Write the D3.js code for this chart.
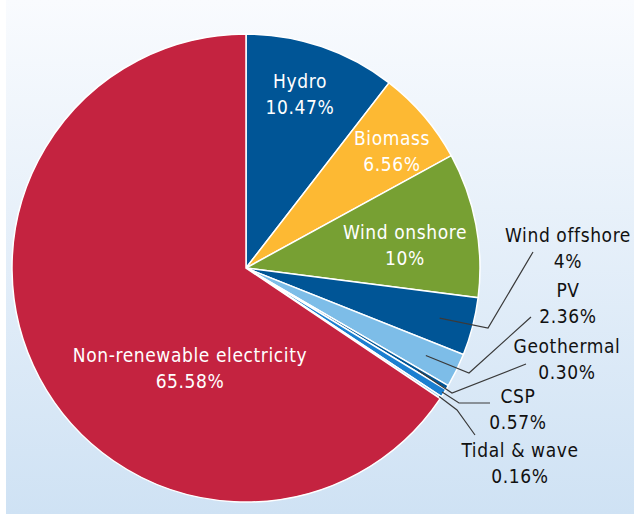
<!DOCTYPE html>
<html lang="en">
<head>
    <meta charset="UTF-8">
    <title>Electricity shares</title>
    <style>
        body { margin: 0; background: #fff; }
        text {
            font-family: 'Liberation Sans Narrow', 'Arial Narrow', 'DejaVu Sans Condensed', sans-serif;
            font-size: 19px;
            letter-spacing: 0.6px;
            text-anchor: middle;
        }
        .inside { fill: #fff; }
        .outside { fill: #111; }
        .leader { fill: none; stroke: #3a3a3a; stroke-width: 1.2px; }
        .slice { stroke: #fff; stroke-width: 1.5px; }
    </style>
</head>
<body>

<script src="https://d3js.org/d3.v7.min.js"></script>

<script>

    const width = 634;
    const height = 515;

    // slices, clockwise from 12 o'clock
    const sources = ['Hydro', 'Biomass', 'Wind onshore', 'Wind offshore', 'PV', 'Geothermal', 'CSP', 'Tidal & wave', 'Non-renewable electricity'];
    const shares = [10.47, 6.56, 10, 4, 2.36, 0.30, 0.57, 0.16, 65.58];
    const shareLabels = ['10.47%', '6.56%', '10%', '4%', '2.36%', '0.30%', '0.57%', '0.16%', '65.58%'];
    const colours = ['#005596', '#fdb933', '#77a033', '#005596', '#7dbde8', '#005596', '#1b7fd0', '#7dbde8', '#c42340'];

    const centre = {'x': 246, 'y': 268};
    const radius = 234;

    // label layout: offset of label centre from pie centre (first baseline), line gap
    const labelLayout = {
        'Hydro': {'dx': 54, 'dy': -180, 'inside': true},
        'Biomass': {'dx': 146, 'dy': -123, 'inside': true},
        'Wind onshore': {'dx': 159, 'dy': -29, 'inside': true},
        'Non-renewable electricity': {'dx': -56, 'dy': 94, 'inside': true},
        'Wind offshore': {'dx': 322, 'dy': -26},
        'PV': {'dx': 322, 'dy': 29},
        'Geothermal': {'dx': 321, 'dy': 85},
        'CSP': {'dx': 272, 'dy': 135},
        'Tidal & wave': {'dx': 274, 'dy': 189}
    };
    const lineGap = 26;

    // leader lines: start radius inside the slice, then elbow and end relative to pie centre
    const leaderLayout = {
        'Wind offshore': {'r': 200, 'pts': [[242, 60], [287, -16]]},
        'PV': {'r': 200, 'pts': [[223, 105], [285, 49]]},
        'Geothermal': {'r': 200, 'pts': [[206, 125], [280, 96]]},
        'CSP': {'r': 232, 'pts': [[213, 135], [244, 135]]},
        'Tidal & wave': {'r': 232, 'pts': [[211, 142], [229, 167]]}
    };

    let svg = d3.select('body').append('svg')
        .attr('width', width)
        .attr('height', height);

    let defs = svg.append('defs');
    let grad = defs.append('linearGradient')
        .attr('id', 'bg')
        .attr('x1', 0).attr('y1', 0)
        .attr('x2', 0).attr('y2', 1);
    grad.append('stop').attr('offset', '0%').attr('stop-color', '#f9fbfe');
    grad.append('stop').attr('offset', '100%').attr('stop-color', '#cfe2f4');

    svg.append('rect')
        .attr('x', 6)
        .attr('y', 0)
        .attr('width', width - 6)
        .attr('height', 514)
        .style('fill', 'url(#bg)');

    let data = sources.map(function(s, i) {
        return {'name': s, 'value': shares[i], 'label': shareLabels[i], 'colour': colours[i]};
    });

    let pie = d3.pie()
        .sort(null)
        .value(function(d) { return d.value; });

    let arc = d3.arc()
        .innerRadius(0)
        .outerRadius(radius);

    let arcs = pie(data);

    let chart = svg.append('g')
        .attr('transform', 'translate(' + centre.x + ',' + centre.y + ')');

    chart.selectAll('path.slice')
        .data(arcs)
        .enter().append('path')
        .classed('slice', true)
        .style('fill', function(d) { return d.data.colour; })
        .attr('d', arc);

    // leader lines for the small slices
    arcs.forEach(function(d) {
        let lay = leaderLayout[d.data.name];
        if (!lay) return;
        let mid = (d.startAngle + d.endAngle) / 2;
        let start = [lay.r * Math.sin(mid), -lay.r * Math.cos(mid)];
        chart.append('path')
            .classed('leader', true)
            .attr('d', d3.line()([start].concat(lay.pts)));
    });

    // labels
    arcs.forEach(function(d) {
        let lay = labelLayout[d.data.name];
        let t = chart.append('text')
            .classed(lay.inside ? 'inside' : 'outside', true)
            .attr('x', lay.dx)
            .attr('y', lay.dy);
        t.append('tspan')
            .attr('x', lay.dx)
            .text(d.data.name);
        t.append('tspan')
            .attr('x', lay.dx)
            .attr('dy', lineGap)
            .text(d.data.label);
    });

</script>

</body>
</html>
